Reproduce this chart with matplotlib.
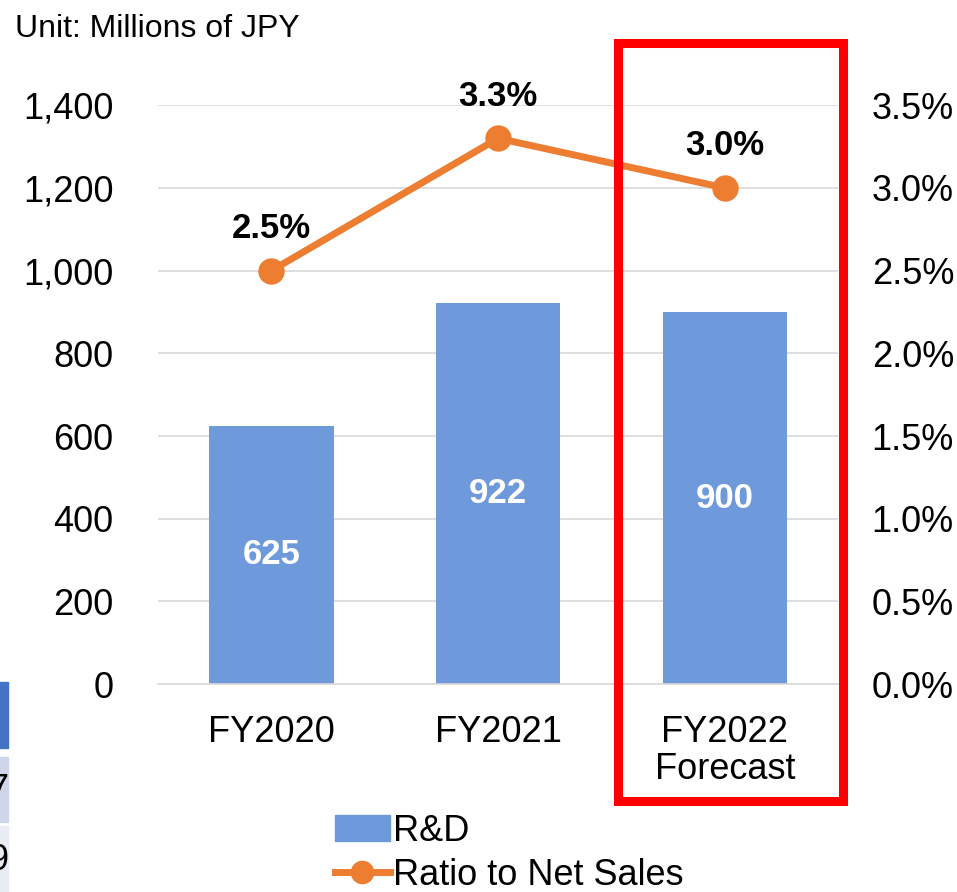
import matplotlib
matplotlib.use("Agg")
import matplotlib.pyplot as plt
from matplotlib.patches import Rectangle
from matplotlib.lines import Line2D
from matplotlib.ticker import FuncFormatter

plt.rcParams['font.family'] = ['Liberation Sans', 'DejaVu Sans']

# --- Data ---
categories = ["FY2020", "FY2021", "FY2022\nForecast"]
rd_values = [625, 922, 900]
ratio_values = [2.5, 3.3, 3.0]
left_ticks = [0, 200, 400, 600, 800, 1000, 1200, 1400]
right_ticks = [0.0, 0.5, 1.0, 1.5, 2.0, 2.5, 3.0, 3.5]

BAR_COLOR = '#6E9ADC'
LINE_COLOR = '#ED7D31'

fig = plt.figure(figsize=(9.57, 8.92), dpi=100)
ax = fig.add_axes([0.165, 0.233, 0.711, 0.649])
ax2 = ax.twinx()

x = list(range(len(categories)))
bars = ax.bar(x, rd_values, width=0.55, color=BAR_COLOR, zorder=2)
for xi, v in zip(x, rd_values):
    ax.text(xi, v / 2, f"{v}", ha='center', va='center', color='white',
            fontsize=25, fontweight='bold', zorder=3)

ax.set_xlim(-0.5, 2.5)
ax.set_ylim(0, 1400)
ax.set_yticks(left_ticks)
ax.yaxis.set_major_formatter(FuncFormatter(lambda v, p: f"{int(v):,}"))
ax.set_xticks(x)
ax.set_xticklabels(categories, fontsize=26, linespacing=1.1)
ax.tick_params(axis='y', labelsize=26, length=0, pad=32)
ax.tick_params(axis='x', length=0, pad=22)
ax.grid(axis='y', color='#D9D9D9', linewidth=1.2, zorder=0)
ax.set_axisbelow(True)
for s in ax.spines.values():
    s.set_visible(False)
ax.spines['bottom'].set_visible(True)
ax.spines['bottom'].set_color('#D9D9D9')
ax.spines['bottom'].set_linewidth(1.2)

ax2.plot(x, ratio_values, color=LINE_COLOR, linewidth=5, marker='o',
         markersize=18, zorder=4)
for xi, v in zip(x, ratio_values):
    ax2.annotate(f"{v:.1f}%", (xi, v), xytext=(0, 42), textcoords='offset pixels',
                 ha='center', va='center', fontsize=25, fontweight='bold')
ax2.set_ylim(0, 3.5)
ax2.set_yticks(right_ticks)
ax2.yaxis.set_major_formatter(FuncFormatter(lambda v, p: f"{v:.1f}%"))
ax2.tick_params(axis='y', labelsize=26, length=0, pad=24)
for s in ax2.spines.values():
    s.set_visible(False)

# unit label
fig.text(0.016, 0.968, "Unit: Millions of JPY", fontsize=23, ha='left', va='center')

# red highlight box around forecast
fig.patches.append(Rectangle((0.646, 0.102), 0.235, 0.850, transform=fig.transFigure,
                             fill=False, edgecolor='#FF0000', linewidth=6.5))

# legend
handles = [Rectangle((0, 0), 1, 1, color=BAR_COLOR),
           Line2D([0], [0], color=LINE_COLOR, linewidth=5, marker='o', markersize=16)]
fig.legend(handles, ["R&D", "Ratio to Net Sales"], loc='lower left',
           bbox_to_anchor=(0.324, -0.029), frameon=False, fontsize=26,
           handlelength=1.5, handletextpad=0.1, labelspacing=0.25, borderpad=0.2)

# cropped table fragments at the left edge
fig.patches.append(Rectangle((0, 1 - 748 / 892), 8 / 957, 66 / 892,
                             transform=fig.transFigure, color='#4472C4'))
fig.patches.append(Rectangle((0, 1 - 822 / 892), 8 / 957, 65 / 892,
                             transform=fig.transFigure, color='#CFD5EA'))
fig.patches.append(Rectangle((0, 0), 8 / 957, 66 / 892,
                             transform=fig.transFigure, color='#E9EBF5'))
fig.text(-0.012, 1 - 790 / 892, "7", fontsize=26, va='center', ha='left')
fig.text(-0.012, 1 - 860 / 892, "9", fontsize=26, va='center', ha='left')

fig.savefig("out.png", dpi=100)
